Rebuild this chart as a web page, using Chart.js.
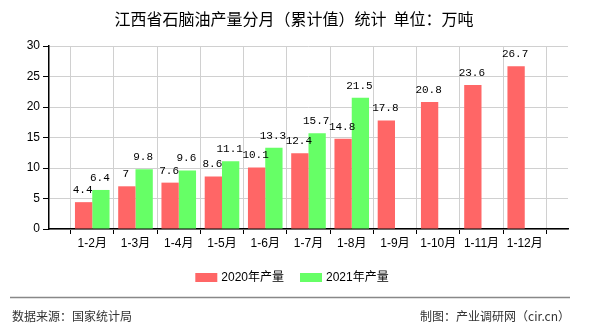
<!DOCTYPE html>
<html>
<head>
<meta charset="utf-8">
<script src="https://cdn.jsdelivr.net/npm/chart.js@4/dist/chart.umd.min.js"></script>
<style>
  body { margin: 0; background: #fff; }
  #wrap { width: 590px; height: 330px; }
</style>
</head>
<body>
<div id="wrap"><canvas id="prodChart" width="590" height="330"></canvas></div>
<script>
// months shown on the x axis
const months = ['1-2月', '1-3月', '1-4月', '1-5月', '1-6月', '1-7月', '1-8月', '1-9月', '1-10月', '1-11月', '1-12月'];
// cumulative output, 10k tonnes
const output2020 = [4.4, 7, 7.6, 8.6, 10.1, 12.4, 14.8, 17.8, 20.8, 23.6, 26.7];
const output2021 = [6.4, 9.8, 9.6, 11.1, 13.3, 15.7, 21.5];
const yTicks = [0, 5, 10, 15, 20, 25, 30];

const seriesNames = ['2020年产量', '2021年产量'];
const seriesColors = ['#ff6666', '#66ff66'];

// empty slot at each end so the months sit on the grid lines
const pad = (arr) => [null, ...months.map((m, i) => (arr[i] === undefined ? null : arr[i])), null];
const labels = ['', ...months, ''];

const cjk = '"Liberation Sans", "Noto Sans CJK SC", sans-serif';

const extras = {
  id: 'extras',
  afterDatasetsDraw(chart) {
    const ctx = chart.ctx;
    ctx.save();
    // value labels above the bars
    ctx.font = '11px "Liberation Mono", monospace';
    ctx.fillStyle = '#000';
    ctx.textAlign = 'center';
    ctx.textBaseline = 'middle';
    chart.data.datasets.forEach((ds, di) => {
      chart.getDatasetMeta(di).data.forEach((bar, i) => {
        const v = ds.data[i];
        if (v === null || v === undefined) return;
        ctx.fillText(String(v), bar.x - 1, bar.y - 12);
      });
    });
    ctx.restore();
  },
  afterDraw(chart) {
    const ctx = chart.ctx;
    ctx.save();
    // title
    ctx.font = '16px "Noto Sans CJK SC", sans-serif';
    ctx.fillStyle = '#000';
    ctx.textAlign = 'center';
    ctx.textBaseline = 'middle';
    ctx.fillText('江西省石脑油产量分月（累计值）统计  单位：万吨', 294, 19);

    // legend
    ctx.font = '12px ' + cjk;
    ctx.textAlign = 'left';
    const boxW = 22, boxH = 9, gap = 4, itemGap = 16;
    const widths = seriesNames.map(n => boxW + gap + ctx.measureText(n).width);
    const total = widths.reduce((a, b) => a + b, 0) + itemGap;
    let lx = 292 - total / 2;
    seriesNames.forEach((name, i) => {
      ctx.fillStyle = seriesColors[i];
      ctx.fillRect(lx, 273, boxW, boxH);
      ctx.fillStyle = '#000';
      ctx.fillText(name, lx + boxW + gap, 278);
      lx += widths[i] + itemGap;
    });

    // footer
    ctx.strokeStyle = '#888';
    ctx.lineWidth = 1.5;
    ctx.beginPath();
    ctx.moveTo(10, 297.5);
    ctx.lineTo(570, 297.5);
    ctx.stroke();
    ctx.font = '12px "Noto Sans CJK SC", sans-serif';
    ctx.fillStyle = '#333';
    ctx.fillText('数据来源：国家统计局', 12, 316);
    ctx.textAlign = 'right';
    ctx.fillText('制图：产业调研网（cir.cn）', 570, 316);
    ctx.restore();
  }
};

new Chart(document.getElementById('prodChart'), {
  type: 'bar',
  data: {
    labels: labels,
    datasets: [
      { label: seriesNames[0], data: pad(output2020), backgroundColor: seriesColors[0] },
      { label: seriesNames[1], data: pad(output2021), backgroundColor: seriesColors[1] }
    ]
  },
  options: {
    responsive: false,
    animation: false,
    events: [],
    categoryPercentage: 0.8,
    barPercentage: 1.0,
    layout: { padding: { left: 0, top: 46, right: 22, bottom: 71 } },
    plugins: {
      legend: { display: false },
      title: { display: false },
      tooltip: { enabled: false }
    },
    scales: {
      x: {
        offset: false,
        afterFit(scale) { scale.height = 30; },
        grid: { color: '#d0d0d0', tickColor: '#000', tickLength: 5 },
        border: { color: '#000', width: 1.5 },
        ticks: { color: '#000', font: { size: 12, family: cjk }, padding: 2, maxRotation: 0, autoSkip: false }
      },
      y: {
        min: 0,
        max: 30,
        afterFit(scale) { scale.width = 49; },
        afterBuildTicks(scale) { scale.ticks = yTicks.map(v => ({ value: v })); },
        grid: { color: '#d0d0d0', tickColor: '#000', tickLength: 6 },
        border: { color: '#000', width: 1.5 },
        ticks: { color: '#000', font: { size: 12, family: cjk }, padding: 3 }
      }
    }
  },
  plugins: [extras]
});
</script>
</body>
</html>
